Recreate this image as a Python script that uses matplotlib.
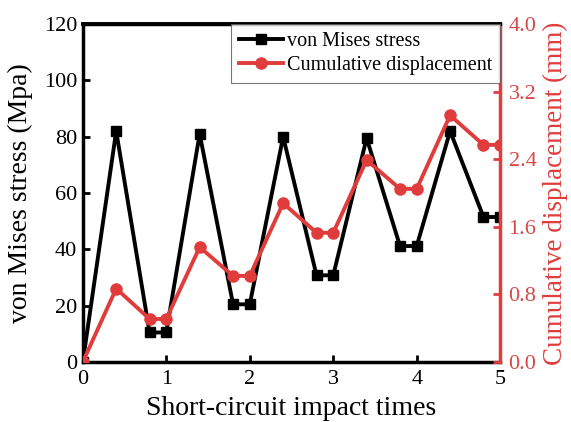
import matplotlib
matplotlib.use('Agg')
import matplotlib.pyplot as plt

plt.rcParams['font.family'] = ['Liberation Serif', 'DejaVu Serif']

# 数据
impact_times = [0, 0.4, 0.8, 1.0, 1.4, 1.8, 2.0, 2.4, 2.8, 3.0, 3.4, 3.8, 4.0, 4.4, 4.8, 5.0]
stress = [0, 82, 10.5, 10.5, 81, 20.5, 20.5, 80, 30.8, 30.8, 79.5, 41.2, 41.2, 82, 51.5, 51.5]
displacement = [0, 0.87, 0.51, 0.51, 1.36, 1.02, 1.02, 1.88, 1.53, 1.53, 2.39, 2.05, 2.05, 2.92, 2.57, 2.57]

red = '#e03c3c'
red_txt = '#d84848'

fig = plt.figure(figsize=(5.71, 4.22), dpi=100)
ax = fig.add_axes([0.145, 0.142, 0.731, 0.801])
ax2 = ax.twinx()

l1, = ax.plot(impact_times, stress, color='black', lw=2.8, marker='s', ms=7,
              label='von Mises stress', zorder=3)
l2, = ax2.plot(impact_times, displacement, color=red, lw=2.8, marker='o', ms=8,
               label='Cumulative displacement', zorder=3)

ax.set_xlim(0, 5)
ax.set_ylim(0, 120)
ax2.set_ylim(0, 4.0)
ax.set_xticks(range(6))
ax.set_yticks(range(0, 121, 20))
ax2.set_yticks([0.0, 0.8, 1.6, 2.4, 3.2, 4.0])
ax2.set_yticklabels(['0.0', '0.8', '1.6', '2.4', '3.2', '4.0'])

ax.set_xlabel('Short-circuit impact times', fontsize=20, labelpad=5)
ax.set_ylabel('von Mises stress (Mpa)', fontsize=20, labelpad=8)
ax2.set_ylabel('Cumulative displacement (mm)', fontsize=19.5, color=red, labelpad=5)

ax.tick_params(direction='in', labelsize=16, width=2, length=5, pad=4)
ax.tick_params(axis='x', pad=6)
ax2.tick_params(direction='in', labelsize=16, width=2, length=5, colors=red, labelcolor=red_txt, pad=6)
for s in ['left', 'bottom', 'top']:
    ax.spines[s].set_linewidth(2.5)
ax2.spines['right'].set_color(red)
ax2.spines['right'].set_linewidth(2.5)
ax2.spines['left'].set_visible(False)
ax2.spines['top'].set_linewidth(2.8)
ax2.spines['bottom'].set_visible(False)

leg = ax2.legend(handles=[l1, l2], loc='upper right', fontsize=14.5, frameon=True,
                 fancybox=False, edgecolor='#555555', borderaxespad=0, handlelength=2.2,
                 handletextpad=0.2, borderpad=0.4, labelspacing=0.25)
leg.get_frame().set_linewidth(0.8)

fig.savefig('out.png', dpi=100)
